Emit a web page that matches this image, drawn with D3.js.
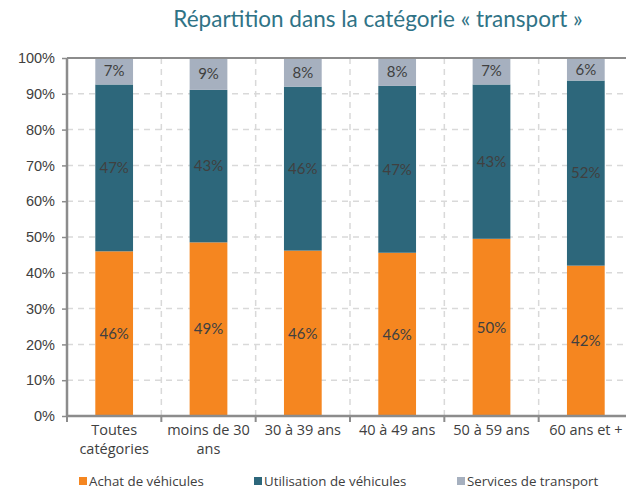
<!DOCTYPE html>
<html>
<head>
<meta charset="utf-8">
<script src="https://cdn.jsdelivr.net/npm/d3@7"></script>
<style>
  body { margin: 0; background: #fff; }
</style>
</head>
<body>
<div id="chart"></div>
<script>
var categories = [["Toutes", "catégories"], ["moins de 30", "ans"], ["30 à 39 ans"], ["40 à 49 ans"], ["50 à 59 ans"], ["60 ans et +"]];
var achat = [46.0, 48.5, 46.2, 45.6, 49.5, 42.0];
var utilisation = [46.6, 42.6, 45.8, 46.6, 43.1, 51.7];
var services = [7.4, 8.9, 8.0, 7.8, 7.4, 6.3];
var achatLabels = ["46%", "49%", "46%", "46%", "50%", "42%"];
var utilisationLabels = ["47%", "43%", "46%", "47%", "43%", "52%"];
var servicesLabels = ["7%", "9%", "8%", "8%", "7%", "6%"];
var seriesNames = ["Achat de véhicules", "Utilisation de véhicules", "Services de transport"];
var colors = ["#F58620", "#2D677B", "#A6B0BF"];
var yTicks = [0, 10, 20, 30, 40, 50, 60, 70, 80, 90, 100];

var W = 626, H = 489;
var margin = {top: 58, left: 67, bottom: 73},
    width = 566,
    height = H - margin.top - margin.bottom;

var svg = d3.select("#chart").append("svg")
    .attr("width", W).attr("height", H);

svg.append("text")
    .attr("x", 378).attr("y", 27)
    .attr("text-anchor", "middle")
    .style("font-family", "Lato, sans-serif")
    .style("font-size", "22.5px")
    .style("fill", "#2F7386")
    .text("Répartition dans la catégorie « transport »");

var g = svg.append("g")
    .attr("transform", "translate(" + margin.left + "," + margin.top + ")");

var x = d3.scaleBand()
    .domain(d3.range(categories.length))
    .range([0, width])
    .paddingInner(0.6).paddingOuter(0.3);

var y = d3.scaleLinear().domain([0, 100]).range([height, 0]);

// horizontal grid
g.selectAll(".hgrid").data(yTicks).enter().append("line")
    .attr("x1", 0).attr("x2", width)
    .attr("y1", function (d) { return y(d); })
    .attr("y2", function (d) { return y(d); })
    .style("stroke", "#D9D9D9").style("stroke-width", 1.5)
    .style("stroke-dasharray", "6,5");

// vertical grid at category boundaries
var step = width / categories.length;
g.selectAll(".vgrid").data(d3.range(1, categories.length)).enter().append("line")
    .attr("x1", function (d) { return d * step; })
    .attr("x2", function (d) { return d * step; })
    .attr("y1", 0).attr("y2", height)
    .style("stroke", "#D9D9D9").style("stroke-width", 1.5)
    .style("stroke-dasharray", "6,5");

// stacked bars
var rows = categories.map(function (c, i) {
  return {i: i, achat: achat[i], utilisation: utilisation[i], services: services[i]};
});
var stack = d3.stack().keys(["achat", "utilisation", "services"]);
var layers = stack(rows);
var labelSets = [achatLabels, utilisationLabels, servicesLabels];

layers.forEach(function (layer, k) {
  g.selectAll(".bar" + k).data(layer).enter().append("rect")
      .attr("x", function (d, i) { return x(i); })
      .attr("width", x.bandwidth())
      .attr("y", function (d) { return y(d[1]); })
      .attr("height", function (d) { return y(d[0]) - y(d[1]); })
      .style("fill", colors[k]);
});

layers.forEach(function (layer, k) {
  g.selectAll(".lab" + k).data(layer).enter().append("text")
      .attr("x", function (d, i) { return x(i) + x.bandwidth() / 2; })
      .attr("y", function (d) { return (y(d[0]) + y(d[1])) / 2; })
      .attr("dy", "0.35em")
      .attr("text-anchor", "middle")
      .style("font-family", "Lato, sans-serif")
      .style("font-size", "15px")
      .style("fill", "#404040")
      .text(function (d, i) { return labelSets[k][i]; });
});

// frame lines
g.append("line").attr("x1", 0).attr("x2", width).attr("y1", 0).attr("y2", 0)
    .style("stroke", "#8C8C8C").style("stroke-width", 2);

var yAxis = g.append("g")
    .call(d3.axisLeft(y).tickValues(yTicks).tickSize(5).tickFormat(function (d) { return d + "%"; }));
yAxis.select(".domain").style("stroke", "#8C8C8C").style("stroke-width", 2.5)
    .attr("d", "M0," + height + "V0");
yAxis.selectAll(".tick line").style("stroke", "#8C8C8C").style("stroke-width", 1.5);
yAxis.selectAll(".tick text")
    .attr("x", -12)
    .style("font-family", "'Liberation Sans', Arial, sans-serif")
    .style("font-size", "14.5px")
    .style("fill", "#404040");

var xb = g.append("g").attr("transform", "translate(0," + height + ")");
xb.append("line").attr("x1", 0).attr("x2", width)
    .style("stroke", "#8C8C8C").style("stroke-width", 2.5);
xb.selectAll(".xt").data(d3.range(0, categories.length + 1)).enter().append("line")
    .attr("x1", function (d) { return d * step; })
    .attr("x2", function (d) { return d * step; })
    .attr("y1", 0).attr("y2", 6)
    .style("stroke", "#8C8C8C").style("stroke-width", 2);

xb.selectAll(".xl").data(categories).enter().append("text")
    .attr("text-anchor", "middle")
    .attr("transform", function (d, i) { return "translate(" + (x(i) + x.bandwidth() / 2) + ",19)"; })
    .style("font-family", "'Open Sans', sans-serif")
    .style("font-size", "14.5px")
    .style("fill", "#404040")
    .each(function (d) {
      var t = d3.select(this);
      d.forEach(function (line, j) {
        t.append("tspan").attr("x", 0).attr("dy", j === 0 ? 0 : 19).text(line);
      });
    });

// legend
var legendX = [79, 254, 457];
var leg = svg.selectAll(".leg").data(seriesNames).enter().append("g")
    .attr("transform", function (d, i) { return "translate(" + legendX[i] + ",477)"; });
leg.append("rect").attr("width", 8).attr("height", 8)
    .style("fill", function (d, i) { return colors[i]; });
leg.append("text").attr("x", 10).attr("y", 8.5)
    .style("font-family", "'Open Sans', sans-serif")
    .style("font-size", "13.3px")
    .style("fill", "#404040")
    .text(function (d) { return d; });
</script>
</body>
</html>
